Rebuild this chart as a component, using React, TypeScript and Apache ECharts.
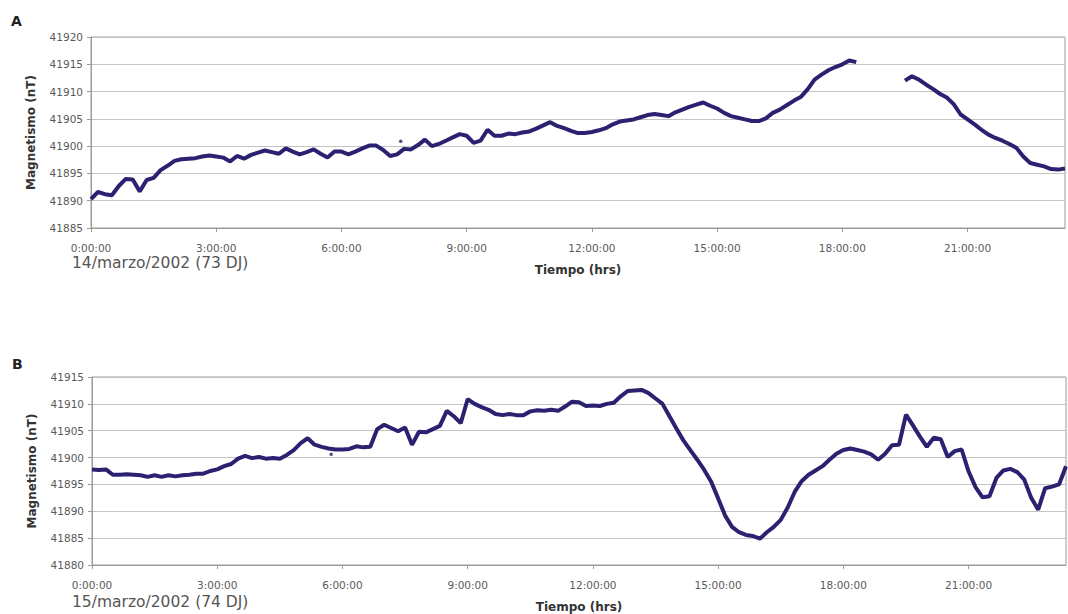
import React, { useEffect, useRef } from "react";
import * as echarts from "echarts";

// sampling step of the magnetometer readings (minutes)
const stepMinutes = 10;
const hourTickStep = 3;

// 14/marzo/2002 (73 DJ) — one value every 10 minutes from 0:00:00
const valuesA: (number | null)[] = [
  41890.3, 41891.6, 41891.2, 41891.0, 41892.7, 41894.0, 41893.9, 41891.7, 41893.8, 41894.2,
  41895.6, 41896.4, 41897.3, 41897.6, 41897.7, 41897.8, 41898.1, 41898.3, 41898.1, 41897.9,
  41897.2, 41898.2, 41897.7, 41898.4, 41898.8, 41899.2, 41898.9, 41898.6, 41899.6, 41899.0,
  41898.5, 41898.9, 41899.4, 41898.6, 41897.9, 41899.0, 41899.0, 41898.5, 41899.0, 41899.6,
  41900.1, 41900.1, 41899.3, 41898.2, 41898.5, 41899.5, 41899.4, 41900.2, 41901.2, 41900.0,
  41900.4, 41901.0, 41901.6, 41902.2, 41901.9, 41900.6, 41901.0, 41903.0, 41901.9, 41901.9,
  41902.3, 41902.2, 41902.5, 41902.7, 41903.2, 41903.8, 41904.4, 41903.7, 41903.3, 41902.8,
  41902.4, 41902.4, 41902.6, 41902.9, 41903.3, 41904.0, 41904.5, 41904.7, 41904.9, 41905.3,
  41905.7, 41905.9, 41905.7, 41905.5, 41906.2, 41906.7, 41907.2, 41907.6, 41908.0, 41907.4,
  41906.9, 41906.1, 41905.5, 41905.2, 41904.9, 41904.6, 41904.6, 41905.1, 41906.1, 41906.7,
  41907.5, 41908.3, 41909.0, 41910.4, 41912.2, 41913.1, 41913.9, 41914.5, 41915.0, 41915.7,
  41915.4, null, null, null, null, null, null, 41912.0, 41912.8, 41912.2,
  41911.3, 41910.5, 41909.6, 41908.9, 41907.7, 41905.8, 41904.9, 41904.0, 41903.0, 41902.1,
  41901.5, 41901.0, 41900.4, 41899.7, 41898.1, 41896.9, 41896.6, 41896.3, 41895.8, 41895.7,
  41895.9,
];

// 15/marzo/2002 (74 DJ) — one value every 10 minutes from 0:00:00
const valuesB: number[] = [
  41897.8, 41897.7, 41897.8, 41896.8, 41896.8, 41896.9, 41896.8, 41896.7, 41896.4, 41896.7,
  41896.4, 41896.7, 41896.5, 41896.7, 41896.8, 41897.0, 41897.0, 41897.5, 41897.8, 41898.4,
  41898.8, 41899.8, 41900.3, 41899.9, 41900.1, 41899.8, 41899.9, 41899.8, 41900.5, 41901.4,
  41902.7, 41903.6, 41902.4, 41902.0, 41901.7, 41901.5, 41901.5, 41901.6, 41902.1, 41901.9,
  41902.0, 41905.3, 41906.1, 41905.5, 41904.9, 41905.6, 41902.4, 41904.8, 41904.7, 41905.3,
  41905.9, 41908.7, 41907.7, 41906.4, 41910.9, 41910.0, 41909.4, 41908.9, 41908.1, 41907.9,
  41908.1, 41907.9, 41907.9, 41908.6, 41908.8, 41908.7, 41908.9, 41908.7, 41909.5, 41910.4,
  41910.3, 41909.6, 41909.7, 41909.6, 41910.0, 41910.2, 41911.4, 41912.4, 41912.5, 41912.6,
  41912.0, 41911.0, 41910.0, 41907.7, 41905.4, 41903.2, 41901.4, 41899.6, 41897.7, 41895.5,
  41892.4, 41889.2, 41887.1, 41886.1, 41885.6, 41885.4, 41884.9, 41886.1, 41887.1, 41888.4,
  41890.7, 41893.6, 41895.6, 41896.8, 41897.6, 41898.4, 41899.6, 41900.7, 41901.4, 41901.7,
  41901.4, 41901.1, 41900.6, 41899.6, 41900.7, 41902.3, 41902.4, 41908.0, 41906.0, 41903.9,
  41902.0, 41903.7, 41903.4, 41900.1, 41901.2, 41901.5, 41897.4, 41894.5, 41892.6, 41892.8,
  41896.2, 41897.6, 41897.9, 41897.3, 41895.9, 41892.5, 41890.3, 41894.3, 41894.6, 41895.0,
  41898.4,
];

// isolated readings [hour, nT]
const outliersA: [number, number][] = [[7.42, 41900.9]];
const outliersB: [number, number][] = [[5.73, 41900.6]];

const yRangeA = [41885, 41920];
const yRangeB = [41880, 41915];
const dateA = "14/marzo/2002 (73 DJ)";
const dateB = "15/marzo/2002 (74 DJ)";
const xTitle = "Tiempo (hrs)";
const yTitle = "Magnetismo (nT)";

const toPoints = (vals: (number | null)[]) =>
  vals.map((v, i) => [(i * stepMinutes) / 60, v === null ? "-" : v]);

const FONT = "DejaVu Sans";
const LINE_COLOR = "#2b2171";
const GRID_COLOR = "#c4c4c4";
const AXIS_COLOR = "#9a9a9a";
const LABEL_COLOR = "#5a5a5a";

export default function App() {
  const ref = useRef<HTMLDivElement>(null);

  useEffect(() => {
    document.body.style.margin = "0";
    if (!ref.current) return;
    const chart = echarts.init(ref.current, null, { renderer: "svg" });
    const xMax = ((valuesA.length - 1) * stepMinutes) / 60;

    const makeX = (gridIndex: number) => ({
      type: "value",
      gridIndex,
      min: 0,
      max: xMax,
      interval: hourTickStep,
      name: xTitle,
      nameLocation: "middle",
      nameGap: 36,
      nameTextStyle: { fontFamily: FONT, fontSize: 12, fontWeight: "bold", color: "#333" },
      axisLine: { show: true, lineStyle: { color: AXIS_COLOR, width: 1 } },
      axisTick: { show: true, length: 4, lineStyle: { color: AXIS_COLOR } },
      splitLine: { show: false },
      axisLabel: {
        margin: 14,
        showMaxLabel: false,
        fontFamily: FONT,
        fontSize: 10.5,
        color: LABEL_COLOR,
        formatter: (v: number) =>
          Math.abs(v % hourTickStep) < 1e-6 ? `${Math.round(v)}:00:00` : "",
      },
    });

    const makeY = (gridIndex: number, range: number[]) => ({
      type: "value",
      gridIndex,
      min: range[0],
      max: range[1],
      interval: 5,
      name: yTitle,
      nameLocation: "middle",
      nameGap: 54,
      nameRotate: 90,
      nameTextStyle: { fontFamily: FONT, fontSize: 12, fontWeight: "bold", color: "#333" },
      axisLine: { show: true, lineStyle: { color: AXIS_COLOR, width: 1 } },
      axisTick: { show: true, length: 4, lineStyle: { color: AXIS_COLOR } },
      splitLine: { show: true, lineStyle: { color: GRID_COLOR, width: 1.2 } },
      axisLabel: {
        margin: 8,
        fontFamily: FONT,
        fontSize: 10.5,
        color: LABEL_COLOR,
        formatter: (v: number) => String(v),
      },
    });

    const lineSeries = (idx: number, vals: (number | null)[]) => ({
      type: "line",
      xAxisIndex: idx,
      yAxisIndex: idx,
      data: toPoints(vals),
      showSymbol: false,
      connectNulls: false,
      lineStyle: { color: LINE_COLOR, width: 4 },
      itemStyle: { color: LINE_COLOR },
      z: 3,
    });

    const dotSeries = (idx: number, pts: [number, number][]) => ({
      type: "scatter",
      xAxisIndex: idx,
      yAxisIndex: idx,
      data: pts,
      symbolSize: 3.5,
      itemStyle: { color: LINE_COLOR },
      z: 4,
    });

    chart.setOption({
      animation: false,
      backgroundColor: "#ffffff",
      grid: [
        { left: 91, top: 37, width: 974, height: 191, show: true, borderColor: AXIS_COLOR, borderWidth: 1, containLabel: false },
        { left: 92, top: 377, width: 974, height: 189, show: true, borderColor: AXIS_COLOR, borderWidth: 1, containLabel: false },
      ],
      xAxis: [makeX(0), makeX(1)],
      yAxis: [makeY(0, yRangeA), makeY(1, yRangeB)],
      series: [
        lineSeries(0, valuesA),
        dotSeries(0, outliersA),
        lineSeries(1, valuesB),
        dotSeries(1, outliersB),
      ],
      graphic: [
        { type: "text", x: 11, y: 14, style: { text: "A", fontFamily: FONT, fontSize: 14, fontWeight: 900, fill: "#222" } },
        { type: "text", x: 12, y: 357, style: { text: "B", fontFamily: FONT, fontSize: 14, fontWeight: 900, fill: "#222" } },
        { type: "text", x: 72, y: 263, style: { text: dateA, fontFamily: FONT, fontSize: 15.5, fill: "#555", verticalAlign: "middle" } },
        { type: "text", x: 72, y: 602, style: { text: dateB, fontFamily: FONT, fontSize: 15.5, fill: "#555", verticalAlign: "middle" } },
      ],
    });

    return () => chart.dispose();
  }, []);

  return (
    <div
      ref={ref}
      style={{ position: "absolute", left: 0, top: 0, width: 1068, height: 614, background: "#fff" }}
    />
  );
}
